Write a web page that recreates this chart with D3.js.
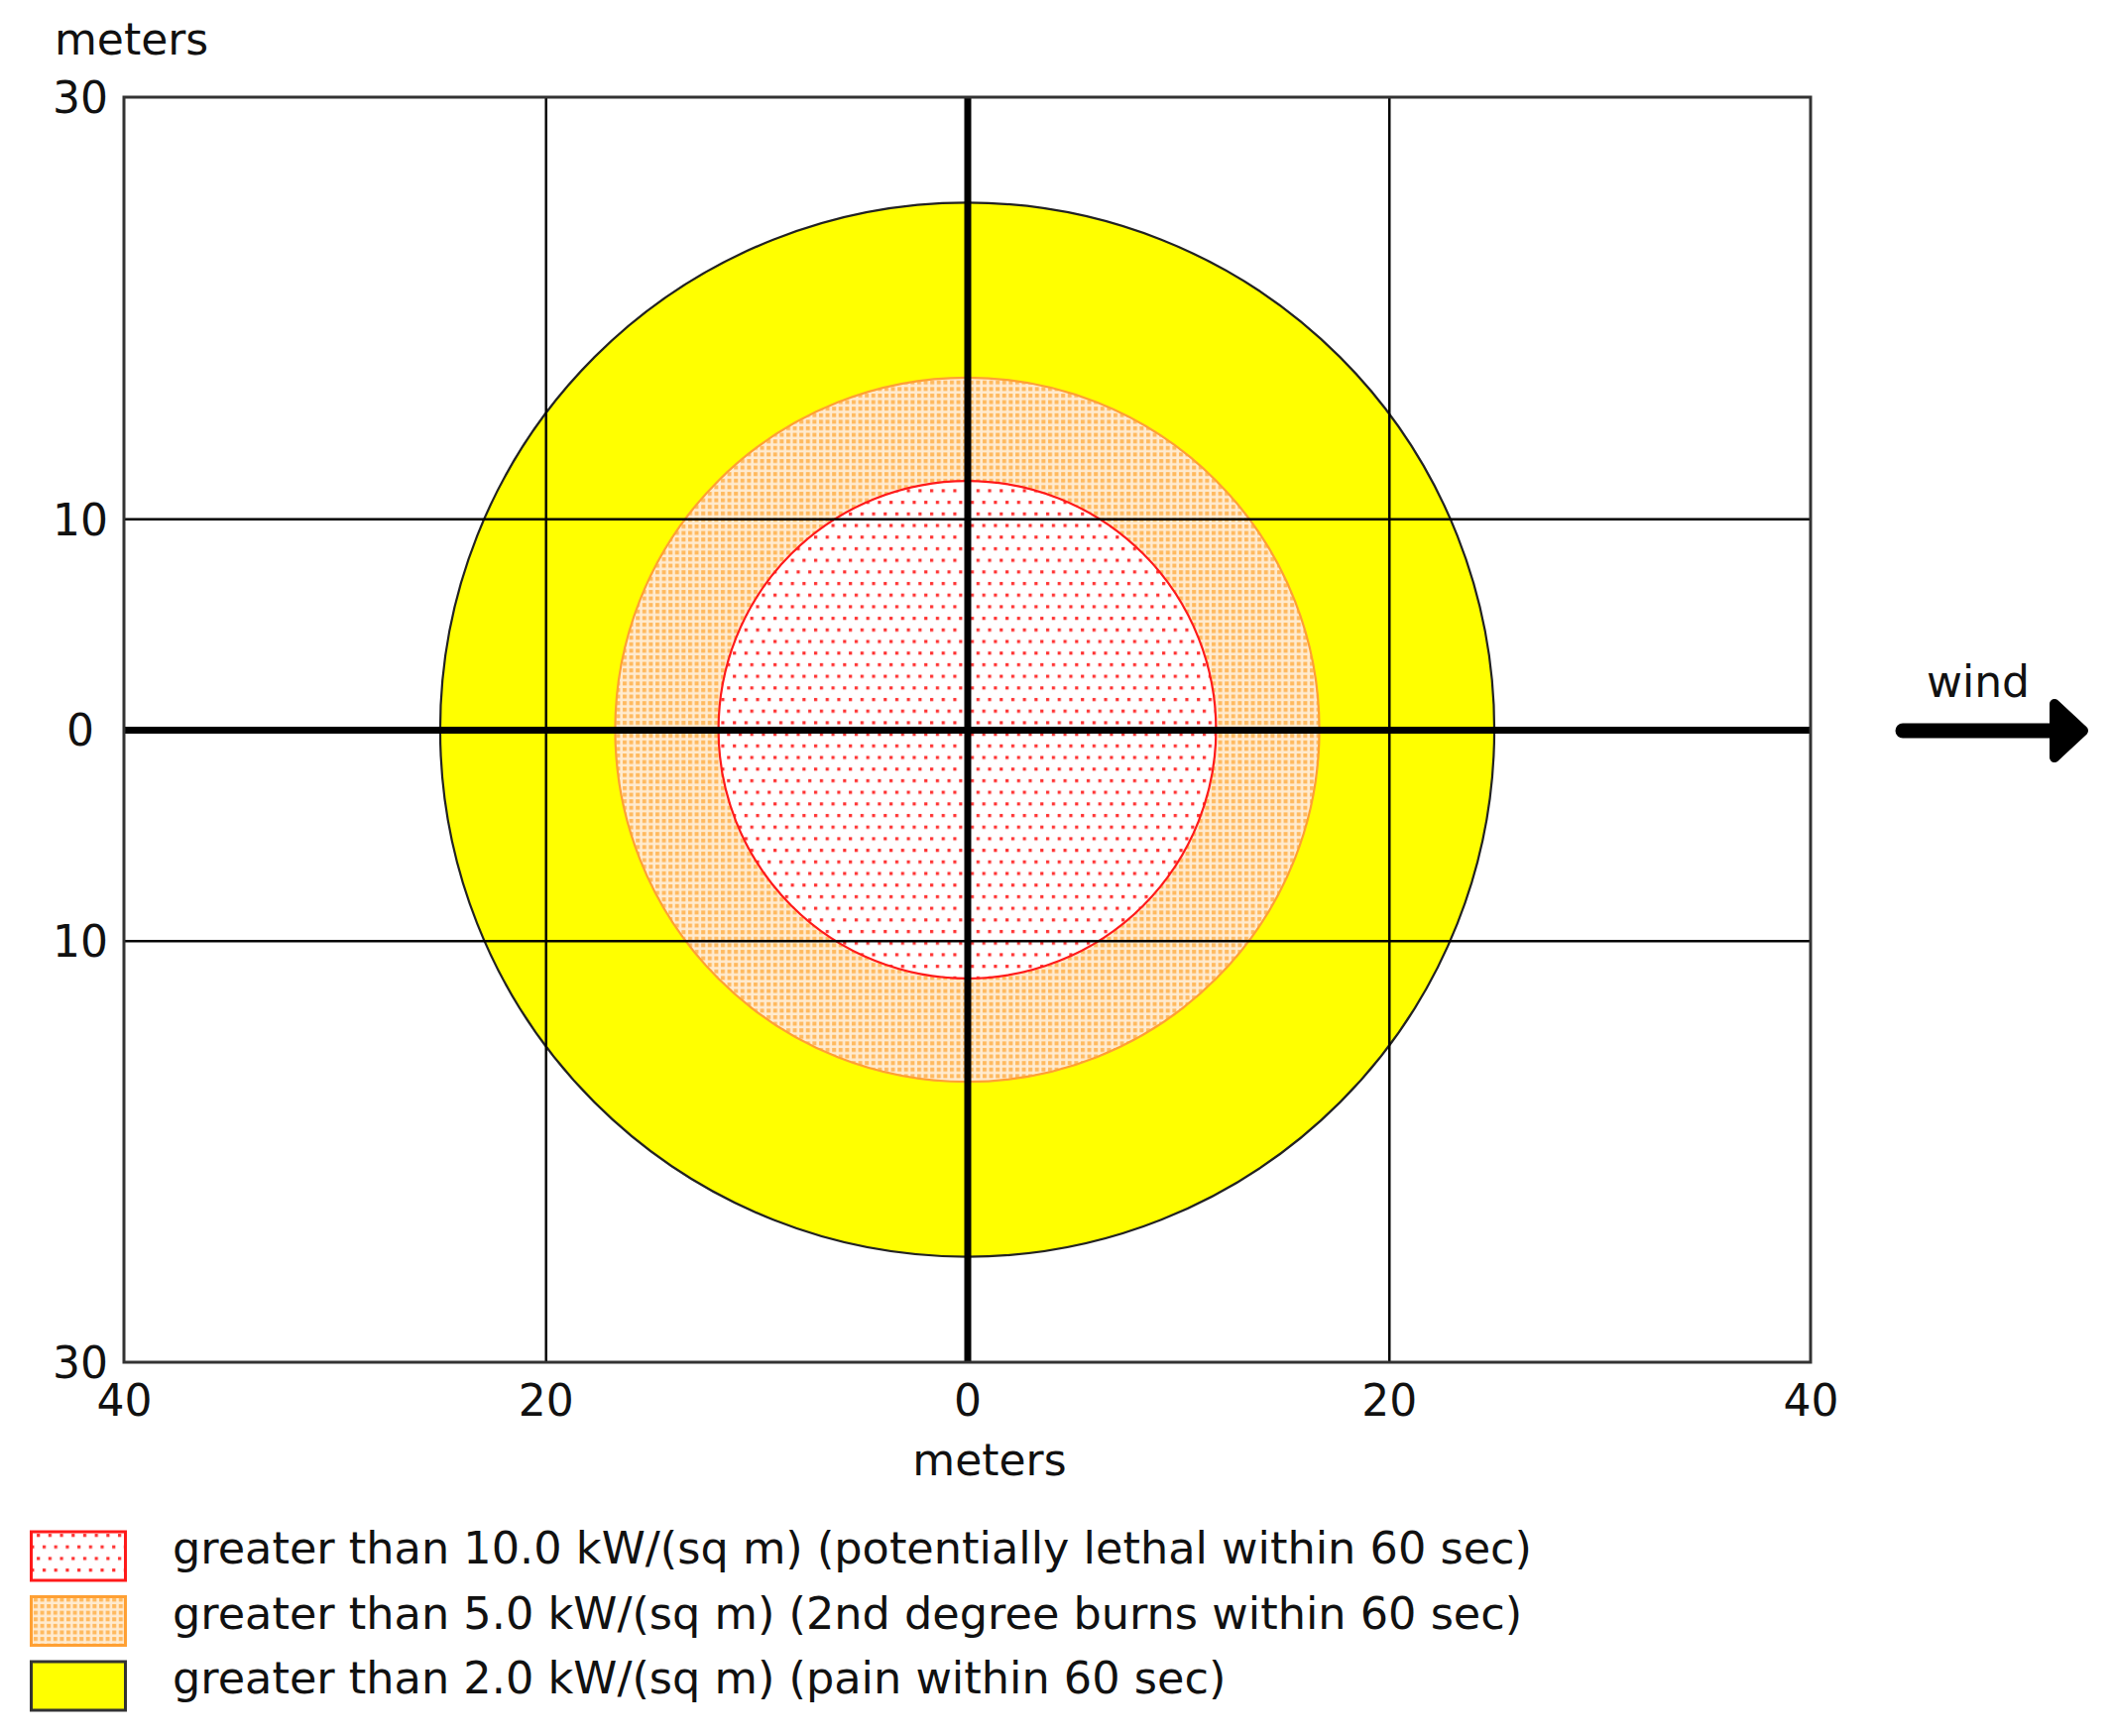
<!DOCTYPE html>
<html>
<head>
<meta charset="utf-8">
<script src="https://cdn.jsdelivr.net/npm/d3@7"></script>
<style>
body { margin: 0; background: #fff; }
text { font-family: "DejaVu Sans", Verdana, sans-serif; fill: #111; }
</style>
</head>
<body>
<script>
var w = 2130;
var h = 1751;

// threat zones, innermost first (radius in meters)
var zoneNames = ["red", "orange", "yellow"];
var zoneRadius = [11.8, 16.7, 25.0];
var zoneLabels = [
    "greater than 10.0 kW/(sq m) (potentially lethal within 60 sec)",
    "greater than 5.0 kW/(sq m) (2nd degree burns within 60 sec)",
    "greater than 2.0 kW/(sq m) (pain within 60 sec)"
];
var xTicks = [-40, -20, 0, 20, 40];
var yTicks = [30, 10, 0, -10, -30];

var fills = { red: "url(#dotsRed)", orange: "url(#dotsOrange)", yellow: "#ffff00" };
var strokes = { red: "#ff1a1a", orange: "#ffa033", yellow: "#222" };

var xScale = d3.scaleLinear().domain([-40, 40]).range([125, 1826]);
var yScale = d3.scaleLinear().domain([-30, 30]).range([1374, 98]);

var svg = d3.select("body").append("svg")
    .attr("width", w)
    .attr("height", h);

var defs = svg.append("defs");
var pr = defs.append("pattern")
    .attr("id", "dotsRed")
    .attr("patternUnits", "userSpaceOnUse")
    .attr("width", 11.7).attr("height", 23.4);
pr.append("rect").attr("width", 11.7).attr("height", 23.4).attr("fill", "#fff");
pr.append("rect").attr("x", 2).attr("y", 2).attr("width", 3.2).attr("height", 3.2).attr("fill", "#ff3030");
pr.append("rect").attr("x", 7.85).attr("y", 13.7).attr("width", 3.2).attr("height", 3.2).attr("fill", "#ff3030");

var po = defs.append("pattern")
    .attr("id", "dotsOrange")
    .attr("patternUnits", "userSpaceOnUse")
    .attr("width", 6.6).attr("height", 6.6);
po.append("rect").attr("width", 6.6).attr("height", 6.6).attr("fill", "#ffebd0");
po.append("rect").attr("x", 1).attr("y", 1).attr("width", 4).attr("height", 4).attr("fill", "#ffb95e");

// zones, biggest drawn first
var zones = zoneNames.map(function(n, i){
    return { name: n, r: zoneRadius[i] };
}).reverse();

svg.selectAll("circle.zone")
    .data(zones)
    .enter()
    .append("circle")
    .attr("class", "zone")
    .attr("cx", xScale(0))
    .attr("cy", yScale(0))
    .attr("r", function(d){ return xScale(d.r) - xScale(0); })
    .attr("fill", function(d){ return fills[d.name]; })
    .attr("stroke", function(d){ return strokes[d.name]; })
    .attr("stroke-width", 2.2);

// grid lines via axes
var xGrid = d3.axisBottom(xScale)
    .tickValues(xTicks.slice(1, -1))
    .tickSize(-(yScale(-30) - yScale(30)))
    .tickFormat("");
var yGrid = d3.axisLeft(yScale)
    .tickValues(yTicks.slice(1, -1))
    .tickSize(-(xScale(40) - xScale(-40)))
    .tickFormat("");

svg.append("g")
    .attr("transform", "translate(0," + yScale(-30) + ")")
    .call(xGrid)
    .call(function(g){ g.select(".domain").remove(); });
svg.append("g")
    .attr("transform", "translate(" + xScale(-40) + ",0)")
    .call(yGrid)
    .call(function(g){ g.select(".domain").remove(); });

svg.selectAll(".tick line")
    .attr("stroke", "#000")
    .attr("stroke-width", function(d){ return d === 0 ? 7 : 2.5; });

// plot frame
svg.append("rect")
    .attr("x", xScale(-40))
    .attr("y", yScale(30))
    .attr("width", xScale(40) - xScale(-40))
    .attr("height", yScale(-30) - yScale(30))
    .attr("fill", "none")
    .attr("stroke", "#333")
    .attr("stroke-width", 3);

// tick labels
var xAxis = d3.axisBottom(xScale)
    .tickValues(xTicks)
    .tickSize(0)
    .tickFormat(function(d){ return Math.abs(d); });
svg.append("g")
    .attr("transform", "translate(0," + yScale(-30) + ")")
    .call(xAxis)
    .call(function(g){ g.select(".domain").remove(); })
    .selectAll("text")
    .attr("y", 54)
    .attr("dy", null)
    .attr("font-size", "44px")
    .attr("font-family", null)
    .attr("fill", "#111");

var yAxis = d3.axisLeft(yScale)
    .tickValues(yTicks)
    .tickSize(0)
    .tickFormat(function(d){ return Math.abs(d); });
svg.append("g")
    .attr("transform", "translate(" + xScale(-40) + ",0)")
    .call(yAxis)
    .call(function(g){ g.select(".domain").remove(); })
    .selectAll("text")
    .attr("x", -44)
    .attr("dy", "0.36em")
    .attr("text-anchor", "middle")
    .attr("font-size", "44px")
    .attr("font-family", null)
    .attr("fill", "#111");

svg.append("text")
    .attr("x", 55).attr("y", 55)
    .attr("font-size", "44px")
    .text("meters");

svg.append("text")
    .attr("x", 998).attr("y", 1488)
    .attr("text-anchor", "middle")
    .attr("font-size", "44px")
    .text("meters");

// wind arrow
svg.append("text")
    .attr("x", 1995).attr("y", 703)
    .attr("text-anchor", "middle")
    .attr("font-size", "44px")
    .text("wind");
svg.append("line")
    .attr("x1", 1919).attr("y1", 737)
    .attr("x2", 2075).attr("y2", 737)
    .attr("stroke", "#000")
    .attr("stroke-width", 15)
    .attr("stroke-linecap", "round");
svg.append("path")
    .attr("d", "M2072,710 L2101,737 L2072,764 Z")
    .attr("fill", "#000")
    .attr("stroke", "#000")
    .attr("stroke-width", 10)
    .attr("stroke-linejoin", "round");

// legend
var legend = svg.selectAll("g.legend")
    .data(zoneNames)
    .enter()
    .append("g")
    .attr("class", "legend")
    .attr("transform", function(d, i){ return "translate(0," + (1545 + i * 65.5) + ")"; });

legend.append("rect")
    .attr("x", 31.5).attr("y", 0)
    .attr("width", 95).attr("height", 49)
    .attr("fill", function(d){ return fills[d]; })
    .attr("stroke", function(d){ return d === "yellow" ? "#333" : strokes[d]; })
    .attr("stroke-width", 3);

legend.append("text")
    .attr("x", 174).attr("y", 32)
    .attr("font-size", "44.6px")
    .text(function(d, i){ return zoneLabels[i]; });
</script>
</body>
</html>
